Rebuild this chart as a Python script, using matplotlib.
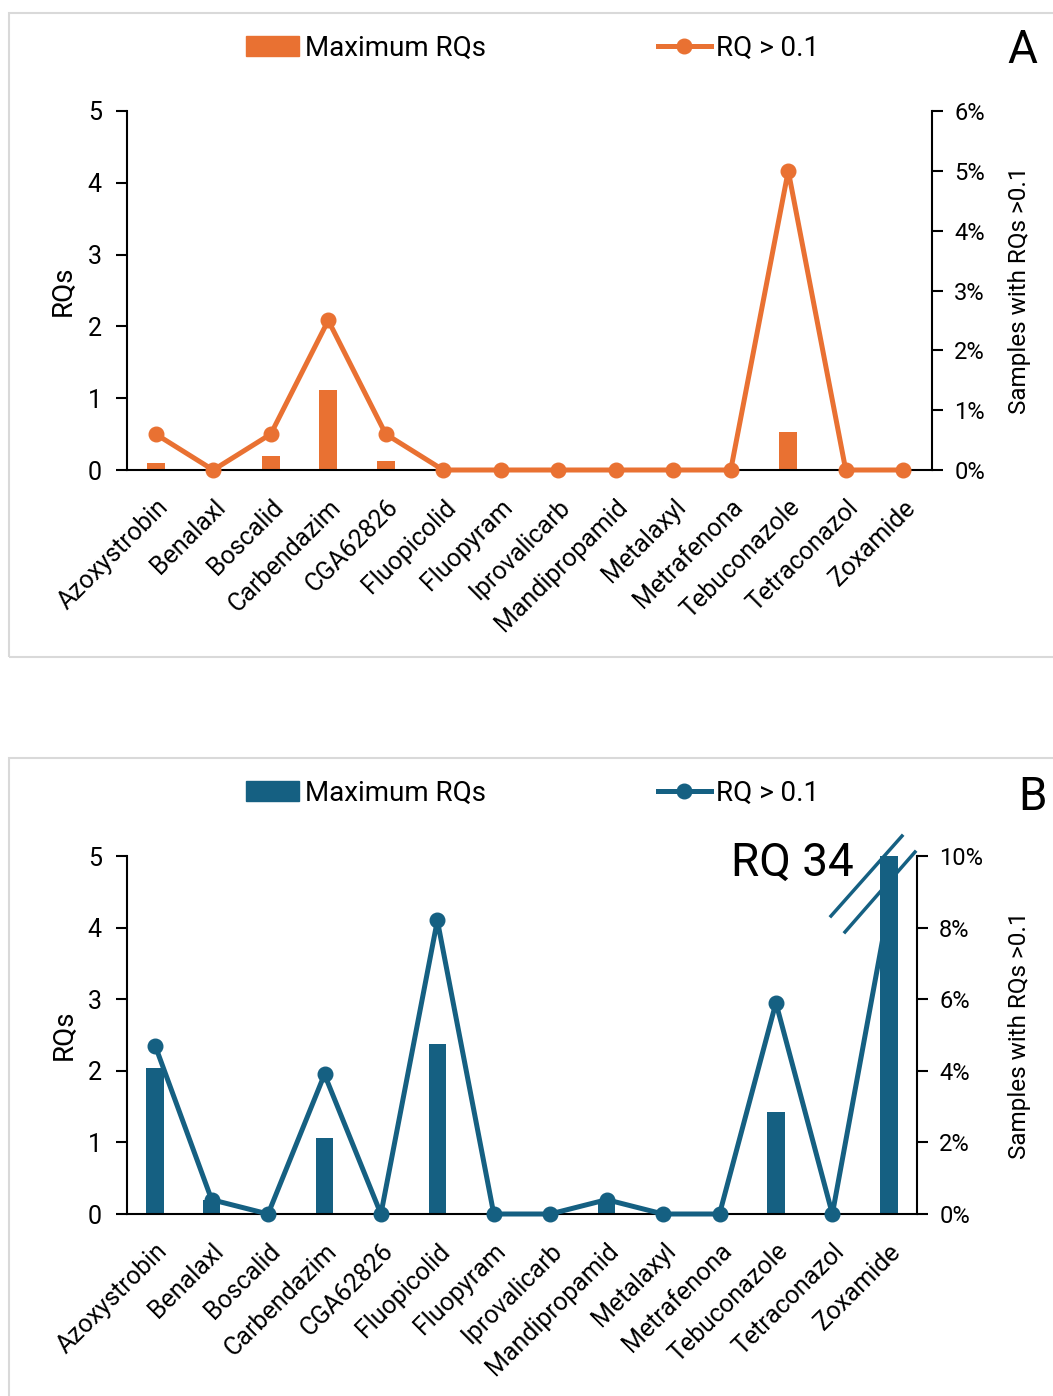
import matplotlib
matplotlib.use("Agg")
from matplotlib import pyplot as plt
from matplotlib.lines import Line2D
from matplotlib.patches import Rectangle
from matplotlib.ticker import FuncFormatter, MultipleLocator
from matplotlib.transforms import ScaledTranslation

plt.rcParams['font.family'] = ['Roboto', 'DejaVu Sans']

compounds = ["Azoxystrobin", "Benalaxl", "Boscalid", "Carbendazim", "CGA62826",
             "Fluopicolid", "Fluopyram", "Iprovalicarb", "Mandipropamid",
             "Metalaxyl", "Metrafenona", "Tebuconazole", "Tetraconazol", "Zoxamide"]

# panel A
max_rq_a = [0.10, 0, 0.20, 1.11, 0.12, 0, 0, 0, 0, 0, 0, 0.53, 0, 0]
pct_a = [0.6, 0, 0.6, 2.5, 0.6, 0, 0, 0, 0, 0, 0, 5.0, 0, 0]

# panel B (Zoxamide max RQ = 34, clipped)
max_rq_b = [2.04, 0.2, 0, 1.06, 0, 2.37, 0, 0, 0.15, 0, 0, 1.42, 0, 34]
pct_b = [4.7, 0.4, 0, 3.9, 0, 8.2, 0, 0, 0.4, 0, 0, 5.9, 0, 8.6]

ORANGE = "#E97132"
BLUE = "#156082"
W, H = 1053, 1396

fig = plt.figure(figsize=(W / 100, H / 100), dpi=100)


def fx(px):
    return px / W


def fy(py):
    return 1 - py / H


def panel(rect, rq, pct, color, pmax, pstep, letter, leg_y, letter_pos, lab_x):
    ax = fig.add_axes(rect)
    x = list(range(len(compounds)))
    ax.bar(x, rq, width=0.31, color=color, zorder=1)
    ax.set_xlim(-0.5, len(compounds) - 0.5)
    ax.set_ylim(0, 5)
    ax.set_xticks(x)
    ax.set_xticklabels(compounds, rotation=45, ha="right", rotation_mode="anchor",
                       fontsize=18)
    shift = ScaledTranslation(6 / 100, 0, fig.dpi_scale_trans)
    for lab in ax.get_xticklabels():
        lab.set_transform(lab.get_transform() + shift)
    ax.tick_params(axis="x", length=0, pad=18)
    ax.tick_params(axis="y", direction="out", length=8, width=1.5, labelsize=18, pad=10)
    ax.yaxis.set_major_locator(MultipleLocator(1))
    for s in ["top", "right"]:
        ax.spines[s].set_visible(False)
    for s in ["left", "bottom"]:
        ax.spines[s].set_linewidth(1.5)
    ax.set_ylabel("RQs", fontsize=20)
    ax.yaxis.set_label_coords(lab_x[0], 0.5)

    ax2 = ax.twinx()
    ax2.plot(x, pct, color=color, lw=3.6, marker="o", ms=10.5, zorder=3, clip_on=False)
    ax2.set_ylim(0, pmax)
    ax2.yaxis.set_major_locator(MultipleLocator(pstep))
    ax2.yaxis.set_major_formatter(FuncFormatter(lambda v, p: f"{v:.0f}%"))
    ax2.tick_params(axis="y", direction="out", length=8, width=1.5, labelsize=17, pad=8)
    for s in ["top", "left", "bottom"]:
        ax2.spines[s].set_visible(False)
    ax2.spines["right"].set_linewidth(1.5)
    ax2.set_ylabel("Samples with RQs >0.1", fontsize=17.5)
    ax2.yaxis.set_label_coords(lab_x[1], 0.5)

    handles = [Rectangle((0, 0), 1, 1, color=color),
               Line2D([], [], color=color, lw=3.6, marker="o", ms=10.5)]
    fig.legend(handles, ["Maximum RQs", "RQ > 0.1"], loc="center",
               bbox_to_anchor=(fx(533), fy(leg_y)), ncol=2, frameon=False,
               fontsize=20, handlelength=1.9, handletextpad=0.2,
               columnspacing=6.2)
    fig.text(fx(letter_pos[0]), fy(letter_pos[1]), letter, fontsize=33,
             ha="center", va="center")
    return ax, ax2


panel([fx(127), fy(470), fx(932) - fx(127), fy(111) - fy(470)],
      max_rq_a, pct_a, ORANGE, 6, 1, "A", 48, (1022, 50), (-0.062, 1.095))
axb, axb2 = panel([fx(127), fy(1214), fx(917) - fx(127), fy(856) - fy(1214)],
                  max_rq_b, pct_b, BLUE, 10, 2, "B", 793, (1032, 797), (-0.063, 1.115))

# axis break marks and label for the clipped Zoxamide bar
fig.add_artist(Line2D([fx(831), fx(902)], [fy(916), fy(836)], color=BLUE, lw=2.5))
fig.add_artist(Line2D([fx(845), fx(915)], [fy(932), fy(852)], color=BLUE, lw=2.5))
fig.text(fx(792), fy(863), "RQ 34", fontsize=33, ha="center", va="center")

# panel frames
fig.add_artist(Rectangle((fx(9), fy(657)), 1.1, fy(13) - fy(657), fill=False,
                         edgecolor="#d9d9d9", lw=1.5))
fig.add_artist(Rectangle((fx(9), fy(1420)), 1.1, fy(758) - fy(1420), fill=False,
                         edgecolor="#d9d9d9", lw=1.5))

fig.savefig("out.png", dpi=100)
